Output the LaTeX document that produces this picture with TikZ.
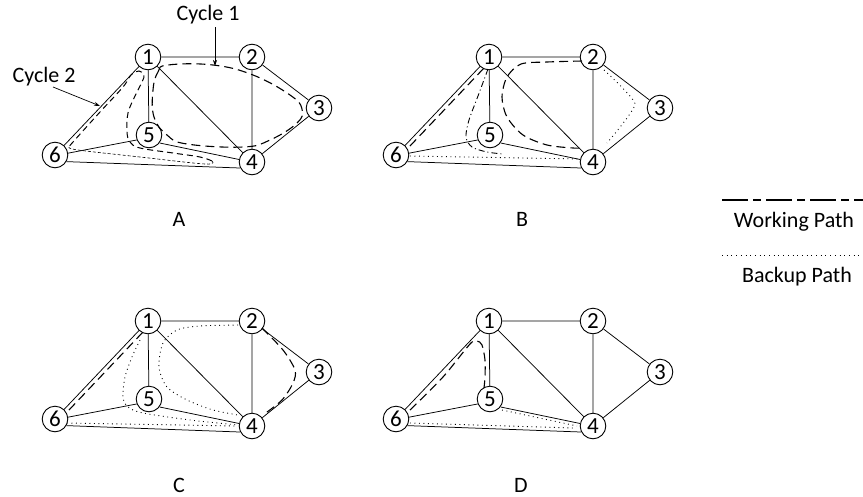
\documentclass[tikz,border=0pt]{standalone}
\usepackage{fontspec}
\setmainfont{Carlito}
\usetikzlibrary{arrows.meta}
\newcommand\netgraph[1]{%
  \node[nd] (#11) at (148,57) {1};
  \node[nd] (#12) at (252,57) {2};
  \node[nd] (#13) at (319,108) {3};
  \node[nd] (#14) at (252,162) {4};
  \node[nd] (#15) at (149,135) {5};
  \node[nd] (#16) at (55,155) {6};
  \draw[edge] (#11) -- (#12) (#11) -- (#16) (#11) -- (#15) (#11) -- (#14)
    (#12) -- (#14) (#12) -- (#13) (#13) -- (#14)
    (#16.8) -- (#15.202) (#15.-37) -- (#14.169) (#16.-30) -- (#14.207);
}
\begin{document}
\begin{tikzpicture}[x=1pt,y=-1pt,
  nd/.style={circle,draw,line width=0.9pt,minimum size=25.6pt,inner sep=0pt,font=\fontsize{23}{23}\selectfont},
  edge/.style={line width=0.75pt},
  work/.style={line width=1.1pt,dash pattern=on 9pt off 5pt},
  workb/.style={line width=1.0pt,dash pattern=on 6pt off 4pt},
  fine/.style={line width=0.6pt,dash pattern=on 3pt off 2pt},
  backup/.style={line width=0.9pt,dash pattern=on 0.9pt off 3.6pt},
  dashdot/.style={line width=0.9pt,dash pattern=on 6pt off 3pt on 1pt off 3pt},
  lbl/.style={font=\fontsize{22}{24}\selectfont,inner sep=1pt},
  arr/.style={line width=0.7pt,-{Stealth[length=6pt,width=4pt]}}]
\useasboundingbox (0,0) rectangle (863,496);

% Panel A
\begin{scope}
  \netgraph{a}
  \draw[work] plot[smooth cycle,tension=0.7] coordinates {(153,90) (158,72) (168,65) (213,65) (253,75) (290,95) (302,109) (297,123) (270,140) (243,147) (187,144) (167,135) (154,117)};
  \draw[workb] plot[smooth,tension=0.6] coordinates {(212,161) (200,157) (173,153) (140,148) (130,142) (127,132) (128,113) (135,96) (142,82) (144,75) (139,71) (131,75) (123,87) (100,112) (73,142) (69,147)};
  \draw[fine] plot[smooth,tension=0.6] coordinates {(69,147) (78,150) (140,157) (205,164) (212,161)};
  \node[lbl] (c1) at (208,15) {Cycle 1};
  \node[lbl] (c2) at (44,77) {Cycle 2};
  \coordinate (c1s) at (215,27);
  \coordinate (c1t) at (215,66);
  \coordinate (c2s) at (53,87);
  \coordinate (c2t) at (100,106);
  \draw[arr] (c1s) -- (c1t);
  \draw[arr] (c2s) -- (c2t);
  \node[lbl] (la) at (179,219) {A};
\end{scope}

% Panel B
\begin{scope}[shift={(341,0)}]
  \netgraph{b}
  \draw[work] (69,146) -- (143,68);
  \draw[dashdot] plot[smooth] coordinates {(147,69) (137,96) (128,120) (125,137) (131,147) (146,152) (162,154)};
  \draw[work] plot[smooth] coordinates {(241,61) (206,62) (180,64) (166,77) (161,97) (166,117) (182,135) (206,145) (232,148) (242,148)};
  \draw[backup] plot[smooth,tension=0.3] coordinates {(263,70) (294,104) (266,143)};
  \draw[backup] (69,156) -- (240,159);
  \node[lbl] (lb) at (181,219) {B};
\end{scope}

% Panel C
\begin{scope}[shift={(0,264)}]
  \netgraph{c}
  \draw[work] (69,146) -- (143,68);
  \draw[backup] plot[smooth] coordinates {(140,76) (132,93) (125,113) (123,133) (128,143) (143,149) (190,156) (238,161)};
  \draw[backup] (67,159) -- (236,162);
  \draw[backup] plot[smooth] coordinates {(238,61) (200,62) (177,66) (163,79) (159,103) (167,123) (187,136) (213,146) (238,151)};
  \draw[work] plot[smooth] coordinates {(262,64) (283,86) (295,106) (293,119) (282,136) (263,151)};
  \node[lbl] (lc) at (179,221) {C};
\end{scope}

% Panel D
\begin{scope}[shift={(341,264)}]
  \netgraph{d}
  \draw[work] plot[smooth] coordinates {(69,146) (102,113) (129,80) (136,77) (141,81) (144,96) (144,113) (143,124)};
  \draw[backup] (69,159) -- (232,164);
  \draw[backup] (161,146) -- (236,162);
  \node[lbl] (ld) at (180,221) {D};
\end{scope}

% Legend
\coordinate (wl) at (722,200);
\coordinate (wr) at (863,200);
\coordinate (bl) at (722,255);
\coordinate (br) at (863,255);
\draw[line width=1.3pt,dash pattern=on 26pt off 5pt on 8pt off 5pt] (wl) -- (wr);
\draw[line width=0.7pt,dash pattern=on 0.7pt off 4pt] (bl) -- (br);
\node[lbl] (lw) at (794,222) {Working Path};
\node[lbl] (lbk) at (797,277) {Backup Path};
\end{tikzpicture}
\end{document}
